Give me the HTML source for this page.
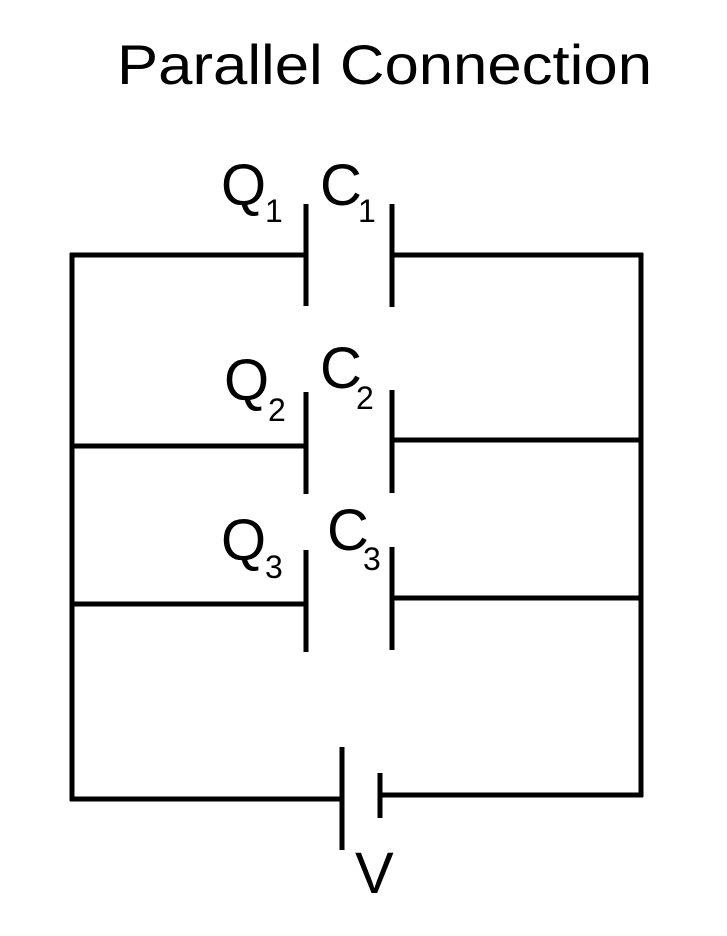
<!DOCTYPE html>
<html><head><style>html,body{margin:0;padding:0;background:#fff}svg{display:block}</style></head>
<body>
<svg width="727" height="936" viewBox="0 0 727 936" xmlns="http://www.w3.org/2000/svg" font-family="'Liberation Sans', sans-serif" fill="#000">
<g stroke="#000" stroke-width="5" fill="none" stroke-linecap="butt">
<!-- outer verticals -->
<line x1="72" y1="253" x2="72" y2="801"/>
<line x1="641" y1="253" x2="641" y2="797"/>
<!-- C1 -->
<line x1="70" y1="255" x2="306" y2="255"/>
<line x1="392" y1="255" x2="643" y2="255"/>
<line x1="306" y1="204" x2="306" y2="306"/>
<line x1="392" y1="204" x2="392" y2="307"/>
<!-- C2 -->
<line x1="72" y1="446" x2="306" y2="446"/>
<line x1="392" y1="440" x2="641" y2="440"/>
<line x1="306" y1="392" x2="306" y2="494"/>
<line x1="392" y1="390" x2="392" y2="493"/>
<!-- C3 -->
<line x1="72" y1="604" x2="306" y2="604"/>
<line x1="392" y1="598" x2="641" y2="598"/>
<line x1="306" y1="550" x2="306" y2="652"/>
<line x1="392" y1="547" x2="392" y2="650"/>
<!-- battery -->
<line x1="70" y1="799" x2="342" y2="799"/>
<line x1="380" y1="795" x2="643" y2="795"/>
<line x1="342" y1="747" x2="342" y2="850"/>
<line x1="380" y1="773" x2="380" y2="818"/>
</g>
<text x="117" y="84" font-size="56" textLength="535" lengthAdjust="spacingAndGlyphs">Parallel Connection</text>
<text x="221" y="205" font-size="58">Q</text><text x="265" y="222" font-size="32">1</text>
<text x="320" y="205" font-size="58">C</text><text x="358" y="222" font-size="32">1</text>
<text x="224" y="400" font-size="58">Q</text><text x="268" y="421" font-size="32">2</text>
<text x="320" y="388" font-size="58">C</text><text x="356" y="409" font-size="32">2</text>
<text x="221" y="560" font-size="58">Q</text><text x="265" y="578" font-size="32">3</text>
<text x="327" y="550" font-size="58">C</text><text x="363" y="570" font-size="32">3</text>
<text x="355" y="893" font-size="58">V</text>
</svg>
</body></html>
